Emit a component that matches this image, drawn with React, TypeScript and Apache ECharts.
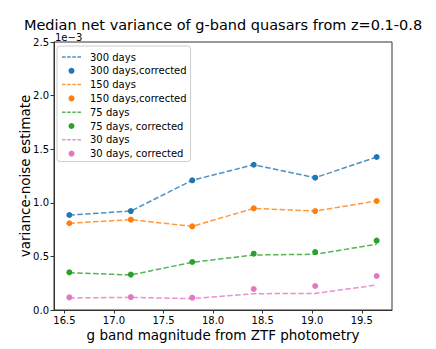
import React, { useEffect, useRef } from "react";
import * as echarts from "echarts";

// g-band magnitude bins (x positions)
const magnitudes = [16.55, 17.17, 17.79, 18.41, 19.03, 19.65];
const xTickValues = [16.5, 17.0, 17.5, 18.0, 18.5, 19.0, 19.5];
const yTickValues = [0.0, 0.5, 1.0, 1.5, 2.0, 2.5];

// values in units of 1e-3
const days300 = [0.886, 0.923, 1.21, 1.355, 1.234, 1.427];
const days300Corrected = [0.886, 0.923, 1.21, 1.355, 1.234, 1.427];
const days150 = [0.809, 0.843, 0.78, 0.948, 0.923, 1.017];
const days150Corrected = [0.809, 0.843, 0.78, 0.948, 0.923, 1.017];
const days75 = [0.348, 0.327, 0.445, 0.513, 0.52, 0.613];
const days75Corrected = [0.351, 0.33, 0.448, 0.525, 0.541, 0.647];
const days30 = [0.112, 0.118, 0.106, 0.152, 0.155, 0.233];
const days30Corrected = [0.118, 0.121, 0.115, 0.196, 0.224, 0.317];

const names = [
  "300 days",
  "300 days,corrected",
  "150 days",
  "150 days,corrected",
  "75 days",
  "75 days, corrected",
  "30 days",
  "30 days, corrected",
];
const colors = ["#1f77b4", "#ff7f0e", "#2ca02c", "#e377c2"];

const dashIcon = "path://M0 0h3.5v1.5h-3.5zM5 0h3.5v1.5h-3.5zM10 0h3.5v1.5h-3.5zM15 0h3.5v1.5h-3.5z";

const FONT = "DejaVu Sans";

export default function App() {
  const ref = useRef<HTMLDivElement>(null);
  useEffect(() => {
    if (!ref.current) return;
    const chart = echarts.init(ref.current, null, { renderer: "svg" });
    const lines = [days300, days150, days75, days30];
    const dots = [days300Corrected, days150Corrected, days75Corrected, days30Corrected];
    const series: any[] = [];
    lines.forEach((vals, i) => {
      series.push({
        name: names[i * 2],
        type: "line",
        data: magnitudes.map((m, j) => [m, vals[j]]),
        symbol: "none",
        itemStyle: { color: colors[i] },
        lineStyle: { color: colors[i], width: 1.5, type: [5.5, 2.4], opacity: 0.8 },
        z: 2,
      });
      series.push({
        name: names[i * 2 + 1],
        type: "scatter",
        data: magnitudes.map((m, j) => [m, dots[i][j]]),
        symbol: "circle",
        symbolSize: 6,
        itemStyle: { color: colors[i], opacity: 1 },
        z: 3,
      });
    });
    const legendData = names.map((n, k) => {
      const ci = Math.floor(k / 2);
      if (k % 2 === 0) {
        return { name: n, icon: dashIcon, itemStyle: { color: colors[ci], opacity: 0.8 } };
      }
      return { name: n, icon: "circle", itemStyle: { color: colors[ci] } };
    });
    chart.setOption({
      animation: false,
      backgroundColor: "#fff",
      textStyle: { fontFamily: FONT },
      title: {
        text: "Median net variance of g-band quasars from z=0.1-0.8",
        left: 223,
        textAlign: "center",
        top: 17,
        padding: 0,
        textStyle: {
          fontFamily: FONT,
          fontSize: 14.5,
          lineHeight: 15,
          fontWeight: "normal",
          color: "#000",
        },
      },
      grid: {
        left: 54,
        right: 44,
        top: 42,
        bottom: 39,
        show: true,
        borderColor: "#333",
        borderWidth: 1,
        backgroundColor: "transparent",
      },
      legend: {
        orient: "vertical",
        left: 57,
        top: 46,
        data: legendData,
        itemWidth: 19,
        itemHeight: 6,
        itemGap: 1.8,
        padding: [5, 4, 2, 5],
        backgroundColor: "rgba(255,255,255,0.8)",
        borderColor: "#cccccc",
        borderWidth: 1,
        borderRadius: 3,
        textStyle: {
          fontFamily: FONT,
          fontSize: 10,
          color: "#000",
          lineHeight: 12,
          padding: [0, 0, 0, 4],
        },
      },
      xAxis: {
        type: "value",
        min: 16.395,
        max: 19.805,
        name: "g band magnitude from ZTF photometry",
        nameLocation: "middle",
        nameGap: 18,
        nameMoveOverlap: false,
        nameTextStyle: { fontFamily: FONT, fontSize: 13.5, color: "#000" },
        axisLine: { show: true, onZero: false, lineStyle: { color: "#333", width: 1 } },
        axisTick: { show: true, length: 3.5, inside: false, customValues: xTickValues, lineStyle: { color: "#333" } },
        axisLabel: {
          customValues: xTickValues,
          formatter: (v: number) => v.toFixed(1),
          fontFamily: FONT,
          fontSize: 10,
          color: "#000",
          margin: 5,
        },
        splitLine: { show: false },
      },
      yAxis: {
        type: "value",
        min: 0,
        max: 2.5,
        interval: 0.5,
        name: "variance-noise estimate",
        nameLocation: "middle",
        nameGap: 22,
        nameMoveOverlap: false,
        nameTextStyle: { fontFamily: FONT, fontSize: 13.5, color: "#000" },
        axisLine: { show: true, lineStyle: { color: "#333", width: 1 } },
        axisTick: { show: true, length: 3.5, inside: false, customValues: yTickValues, lineStyle: { color: "#333" } },
        axisLabel: {
          customValues: yTickValues,
          formatter: (v: number) => v.toFixed(1),
          fontFamily: FONT,
          fontSize: 10,
          color: "#000",
          margin: 5,
        },
        splitLine: { show: false },
      },
      graphic: [
        {
          type: "text",
          x: 55,
          y: 37.5,
          style: {
            text: "1e\u22123",
            fontFamily: FONT,
            fontSize: 10,
            lineHeight: 10,
            fill: "#000",
            verticalAlign: "middle",
            align: "left",
          },
        },
      ],
      series,
    });
    return () => chart.dispose();
  }, []);
  return (
    <div
      ref={ref}
      style={{ position: "fixed", left: 0, top: 0, width: 436, height: 349 }}
    />
  );
}
